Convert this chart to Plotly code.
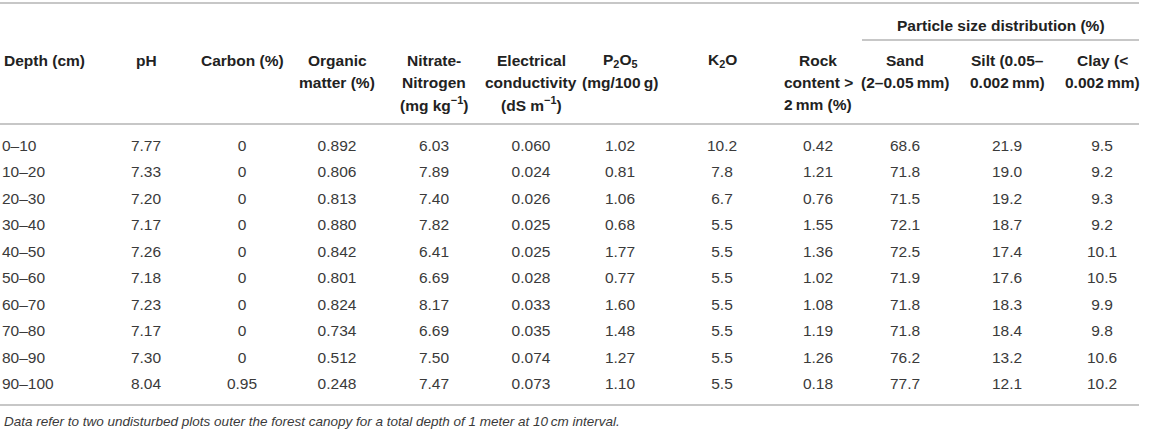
import plotly.graph_objects as go

# ---- data ----
depth = ["0–10", "10–20", "20–30", "30–40", "40–50", "50–60", "60–70", "70–80", "80–90", "90–100"]
ph = [7.77, 7.33, 7.20, 7.17, 7.26, 7.18, 7.23, 7.17, 7.30, 8.04]
carbon = [0, 0, 0, 0, 0, 0, 0, 0, 0, 0.95]
organic_matter = [0.892, 0.806, 0.813, 0.880, 0.842, 0.801, 0.824, 0.734, 0.512, 0.248]
nitrate_n = [6.03, 7.89, 7.40, 7.82, 6.41, 6.69, 8.17, 6.69, 7.50, 7.47]
ec = [0.060, 0.024, 0.026, 0.025, 0.025, 0.028, 0.033, 0.035, 0.074, 0.073]
p2o5 = [1.02, 0.81, 1.06, 0.68, 1.77, 0.77, 1.60, 1.48, 1.27, 1.10]
k2o = [10.2, 7.8, 6.7, 5.5, 5.5, 5.5, 5.5, 5.5, 5.5, 5.5]
rock = [0.42, 1.21, 0.76, 1.55, 1.36, 1.02, 1.08, 1.19, 1.26, 0.18]
sand = [68.6, 71.8, 71.5, 72.1, 72.5, 71.9, 71.8, 71.8, 76.2, 77.7]
silt = [21.9, 19.0, 19.2, 18.7, 17.4, 17.6, 18.3, 18.4, 13.2, 12.1]
clay = [9.5, 9.2, 9.3, 9.2, 10.1, 10.5, 9.9, 9.8, 10.6, 10.2]

headers = [
    ["Depth (cm)"],
    ["pH"],
    ["Carbon (%)"],
    ["Organic", "matter (%)"],
    ["Nitrate-", "Nitrogen", "(mg kg<sup>−1</sup>)"],
    ["Electrical", "conductivity", "(dS m<sup>−1</sup>)"],
    ["P<sub>2</sub>O<sub>5</sub>", "(mg/100\u2009g)"],
    ["K<sub>2</sub>O"],
    ["Rock", "content >", "2\u2009mm (%)"],
    ["Sand", "(2–0.05\u2009mm)"],
    ["Silt (0.05–", "0.002\u2009mm)"],
    ["Clay (<", "0.002\u2009mm)"],
]
group_title = "Particle size distribution (%)"
footnote = ("Data refer to two undisturbed plots outer the forest canopy "
            "for a total depth of 1 meter at 10\u2009cm interval.")

# ---- layout constants ----
W, H = 1152, 432
FONT = "Liberation Sans, Arial, sans-serif"
FS = 15.5
TXT = "#3a3a3a"
HDR = "#222222"
LINE = "#b4b4b4"
col_x = [2, 146, 242, 337, 434, 531, 620, 722, 818, 905, 1007, 1102]
row_y0, row_dy = 147, 26.5
hdr_y0, hdr_dy = 60, 22
x_right = 1139

columns = [
    depth,
    [f"{v:.2f}" for v in ph],
    [f"{v:g}" for v in carbon],
    [f"{v:.3f}" for v in organic_matter],
    [f"{v:.2f}" for v in nitrate_n],
    [f"{v:.3f}" for v in ec],
    [f"{v:.2f}" for v in p2o5],
    [f"{v:.1f}" for v in k2o],
    [f"{v:.2f}" for v in rock],
    [f"{v:.1f}" for v in sand],
    [f"{v:.1f}" for v in silt],
    [f"{v:.1f}" for v in clay],
]

fig = go.Figure()
rows_y = [row_y0 + i * row_dy for i in range(len(depth))]
for j, col in enumerate(columns):
    fig.add_trace(go.Scatter(
        x=[col_x[j]] * len(col), y=rows_y, text=col, mode="text",
        textposition="middle right" if j == 0 else "middle center",
        textfont=dict(family=FONT, size=FS, color=TXT),
        hoverinfo="skip", showlegend=False,
    ))

ann = []
for j, lines in enumerate(headers):
    for k, t in enumerate(lines):
        ann.append(dict(
            x=col_x[j], y=hdr_y0 + k * hdr_dy, xref="x", yref="y",
            text=f"<b>{t}</b>", showarrow=False,
            xanchor="left" if j == 0 else "center", yanchor="middle",
            font=dict(family=FONT, size=FS, color=HDR),
        ))
ann.append(dict(x=(862 + x_right) / 2, y=25, xref="x", yref="y",
                text=f"<b>{group_title}</b>", showarrow=False,
                xanchor="center", yanchor="middle",
                font=dict(family=FONT, size=FS, color=HDR)))
ann.append(dict(x=2, y=421, xref="x", yref="y", text=f"<i>{footnote}</i>",
                showarrow=False, xanchor="left", yanchor="middle",
                font=dict(family=FONT, size=13.5, color=TXT)))

shapes = []
for (x0, x1, y) in [(0, x_right, 3), (862, x_right, 40), (0, x_right, 124), (0, x_right, 405)]:
    shapes.append(dict(type="line", xref="x", yref="y", x0=x0, x1=x1, y0=y, y1=y,
                       line=dict(color=LINE, width=1.5)))

fig.update_layout(
    width=W, height=H, margin=dict(l=0, r=0, t=0, b=0),
    paper_bgcolor="white", plot_bgcolor="white",
    xaxis=dict(range=[0, W], visible=False, fixedrange=True),
    yaxis=dict(range=[H, 0], visible=False, fixedrange=True),
    annotations=ann, shapes=shapes,
)
fig.write_html(
    "out.html",
    config={"displayModeBar": False},
    post_script="document.body.style.margin='0';document.body.style.overflow='hidden';",
)
